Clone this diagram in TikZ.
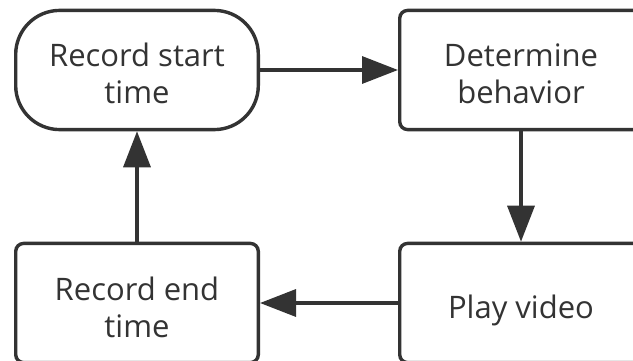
\documentclass[tikz,border=0pt]{standalone}
\usepackage{fontspec}
\setmainfont{Open Sans}
\usetikzlibrary{arrows.meta}
\definecolor{ink}{HTML}{333333}
\newcommand{\twoline}[2]{\raisebox{3pt}[0pt][0pt]{\begin{tabular}[t]{@{}c@{}}#1\\#2\end{tabular}}}
\newcommand{\oneline}[1]{\raisebox{-15.5pt}[0pt][0pt]{#1}}
\tikzset{
  basebox/.style={draw=ink, line width=3.4pt, text=ink, fill=white,
    font=\fontsize{31}{37}\selectfont,
    minimum width=242.6pt, minimum height=119.2pt, inner sep=0pt},
  stadium/.style={basebox, rounded corners=44pt},
  procbox/.style={basebox, rounded corners=8pt},
  flow/.style={draw=ink, line width=3.4pt, -{Triangle[length=36pt,width=27pt]}}
}
\begin{document}
\begin{tikzpicture}
\useasboundingbox (0pt,0pt) rectangle (633pt,-361pt);
\fill[white] (0pt,0pt) rectangle (633pt,-361pt);
\node[stadium] (rst) at (137pt,-70pt) {\twoline{Record start}{time}};
\node[procbox] (det) at (521pt,-70pt) {\twoline{Determine}{behavior}};
\node[procbox] (rend) at (137pt,-303pt) {\twoline{Record end}{time}};
\node[procbox] (play) at (521pt,-303pt) {\oneline{Play video}};
\draw[flow] (rst) -- (det);
\draw[flow] (det) -- (play);
\draw[flow] (play) -- (rend);
\draw[flow] (rend) -- (rst);
\end{tikzpicture}
\end{document}
